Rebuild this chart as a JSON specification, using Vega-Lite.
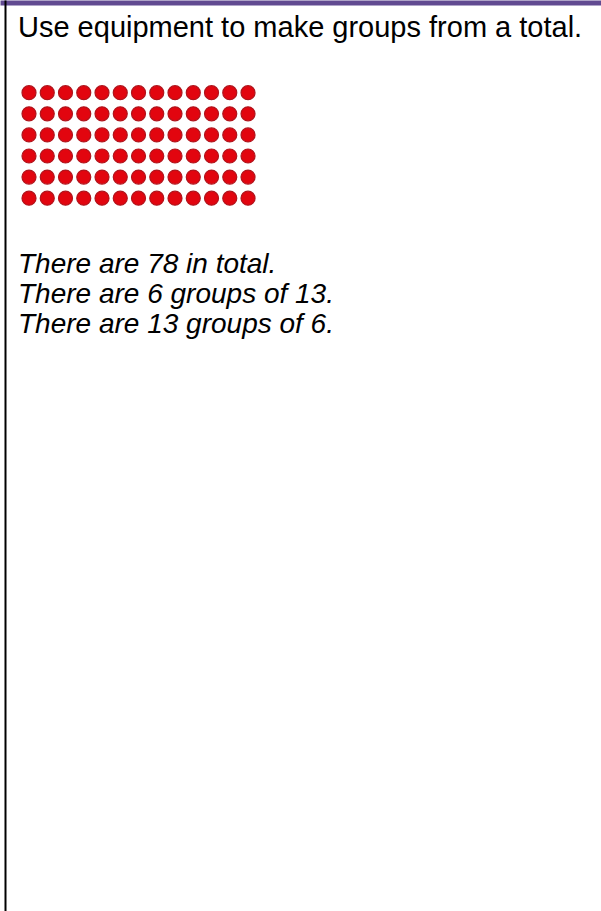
{
  "$schema": "https://vega.github.io/schema/vega-lite/v6.json",
  "width": 601,
  "height": 911,
  "autosize": {"type": "none"},
  "padding": 0,
  "background": "white",
  "config": {"view": {"stroke": null}},
  "resolve": {"scale": {"y": "independent"}, "axis": {"y": "independent"}},
  "layer": [
    {
      "data": {"values": [
        {"row":1,"col":1},{"row":1,"col":2},{"row":1,"col":3},{"row":1,"col":4},{"row":1,"col":5},{"row":1,"col":6},{"row":1,"col":7},{"row":1,"col":8},{"row":1,"col":9},{"row":1,"col":10},{"row":1,"col":11},{"row":1,"col":12},{"row":1,"col":13},
        {"row":2,"col":1},{"row":2,"col":2},{"row":2,"col":3},{"row":2,"col":4},{"row":2,"col":5},{"row":2,"col":6},{"row":2,"col":7},{"row":2,"col":8},{"row":2,"col":9},{"row":2,"col":10},{"row":2,"col":11},{"row":2,"col":12},{"row":2,"col":13},
        {"row":3,"col":1},{"row":3,"col":2},{"row":3,"col":3},{"row":3,"col":4},{"row":3,"col":5},{"row":3,"col":6},{"row":3,"col":7},{"row":3,"col":8},{"row":3,"col":9},{"row":3,"col":10},{"row":3,"col":11},{"row":3,"col":12},{"row":3,"col":13},
        {"row":4,"col":1},{"row":4,"col":2},{"row":4,"col":3},{"row":4,"col":4},{"row":4,"col":5},{"row":4,"col":6},{"row":4,"col":7},{"row":4,"col":8},{"row":4,"col":9},{"row":4,"col":10},{"row":4,"col":11},{"row":4,"col":12},{"row":4,"col":13},
        {"row":5,"col":1},{"row":5,"col":2},{"row":5,"col":3},{"row":5,"col":4},{"row":5,"col":5},{"row":5,"col":6},{"row":5,"col":7},{"row":5,"col":8},{"row":5,"col":9},{"row":5,"col":10},{"row":5,"col":11},{"row":5,"col":12},{"row":5,"col":13},
        {"row":6,"col":1},{"row":6,"col":2},{"row":6,"col":3},{"row":6,"col":4},{"row":6,"col":5},{"row":6,"col":6},{"row":6,"col":7},{"row":6,"col":8},{"row":6,"col":9},{"row":6,"col":10},{"row":6,"col":11},{"row":6,"col":12},{"row":6,"col":13}
      ]},
      "mark": {"type": "point", "shape": "circle", "filled": true, "size": 196, "fill": "#e2050f", "stroke": "#b0141c", "strokeWidth": 1.2, "opacity": 1},
      "encoding": {
        "x": {"field": "col", "type": "quantitative", "scale": {"domain": [-0.589, 32.34], "nice": false, "zero": false},
              "axis": {"orient": "top", "title": null, "labels": false, "ticks": false, "grid": false, "domainColor": "#614a91", "domainWidth": 5, "offset": -2.5}},
        "y": {"field": "row", "type": "quantitative", "scale": {"domain": [-3.393, 39.78], "nice": false, "zero": false, "reverse": true},
              "axis": {"orient": "left", "title": null, "labels": false, "ticks": false, "grid": false, "domainColor": "#000000", "domainWidth": 2, "offset": -5}}
      }
    },
    {
      "data": {"values": [{"text": "Use equipment to make groups from a total."}]},
      "mark": {"type": "text", "align": "left", "baseline": "alphabetic", "font": "Liberation Sans", "fontSize": 29, "color": "#000000"},
      "encoding": {
        "x": {"datum": 0.397, "type": "quantitative"},
        "y": {"datum": 1, "type": "quantitative", "scale": {"domain": [-0.2333, 30.1333], "nice": false, "zero": false, "reverse": true}, "axis": null},
        "text": {"field": "text"}
      }
    },
    {
      "data": {"values": [
        {"line": 1, "text": "There are 78 in total."},
        {"line": 2, "text": "There are 6 groups of 13."},
        {"line": 3, "text": "There are 13 groups of 6."}
      ]},
      "mark": {"type": "text", "align": "left", "baseline": "alphabetic", "font": "Liberation Sans", "fontSize": 28, "fontStyle": "italic", "color": "#000000"},
      "encoding": {
        "x": {"datum": 0.397, "type": "quantitative"},
        "y": {"field": "line", "type": "quantitative", "scale": {"domain": [-8.1, 22.2667], "nice": false, "zero": false, "reverse": true}, "axis": null},
        "text": {"field": "text"}
      }
    }
  ]
}
